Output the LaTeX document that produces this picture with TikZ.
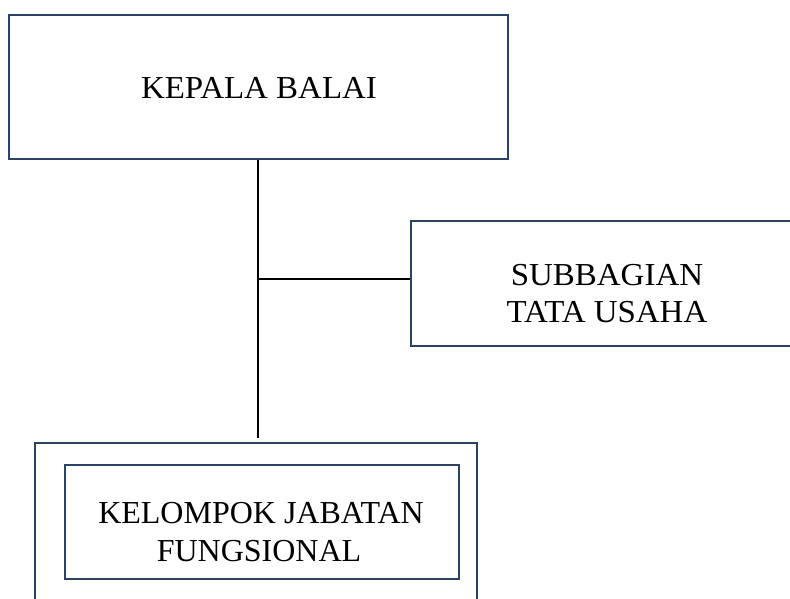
\documentclass[tikz,border=0pt]{standalone}
\usepackage{fontspec}
\setmainfont{Liberation Serif}
\newfontfamily\widefont[FakeStretch=1.03]{Liberation Serif}
\definecolor{boxblue}{RGB}{46,66,100}
\begin{document}
\begin{tikzpicture}[x=1pt,y=-1pt,
  orgbox/.style={draw=boxblue,line width=2pt,rectangle,inner sep=0pt},
  boxtext/.style={anchor=base,inner sep=0pt,font=\fontsize{32}{38}\selectfont},
  widetext/.style={anchor=base,inner sep=0pt,font=\widefont\fontsize{32}{38}\selectfont},
  conn/.style={draw=black,line width=1.6pt}]
\useasboundingbox (0,0) rectangle (790,599);
\begin{scope}
\clip (0,0) rectangle (790,599);
\node[orgbox,minimum width=499pt,minimum height=144pt] (kepala) at (258.5,87) {};
\node[orgbox,minimum width=394pt,minimum height=125pt] (sub) at (608,283.5) {};
\node[orgbox,minimum width=442pt,minimum height=190pt] (outer) at (255.5,538) {};
\node[orgbox,minimum width=394pt,minimum height=114pt] (kjf) at (262,521.5) {};
\end{scope}
\node[widetext] (t1) at (259,99) {KEPALA BALAI};
\node[widetext] (t2) at (607,285) {SUBBAGIAN};
\node[widetext] (t3) at (607,322) {TATA USAHA};
\node[boxtext] (t4) at (261,523) {KELOMPOK JABATAN};
\node[boxtext] (t5) at (259,561) {FUNGSIONAL};
\coordinate (bend) at (258,279);
\coordinate (lineend) at (258,438);
\draw[conn] (kepala.south -| bend) -- (lineend);
\draw[conn] (bend) -- (sub.west |- bend);
\end{tikzpicture}
\end{document}
